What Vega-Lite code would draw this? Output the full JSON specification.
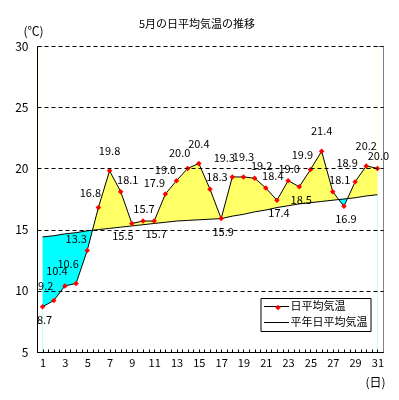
{
  "$schema": "https://vega.github.io/schema/vega-lite/v6.json",
  "autosize": "none",
  "width": 346,
  "height": 306,
  "padding": {"left": 37, "top": 46, "right": 16, "bottom": 48},
  "background": "white",
  "title": {"text": "5月の日平均気温の推移", "anchor": "middle", "frame": "group", "dx": -13, "dy": 7, "offset": 2, "font": "Noto Sans CJK JP", "fontSize": 11, "fontWeight": "normal", "color": "black"},
  "config": {
    "view": {"stroke": "#808080", "strokeWidth": 1},
    "font": "Noto Sans CJK JP",
    "text": {"font": "Noto Sans CJK JP", "fontSize": 11, "color": "black"},
    "axis": {"labelFont": "Noto Sans CJK JP", "titleFont": "Noto Sans CJK JP", "labelColor": "black", "titleColor": "black", "domainColor": "black", "tickColor": "black", "titleFontWeight": "normal"},
    "axisY": {"labelFontSize": 12, "labelPadding": 9, "tickSize": 0, "grid": true, "gridColor": "black", "gridDash": [4, 3], "gridWidth": 1, "titleFontSize": 12, "titleAngle": 0, "titleAlign": "center", "titleBaseline": "middle", "titleX": -4, "titleY": -15},
    "legend": {"labelFont": "Noto Sans CJK JP", "labelColor": "black"}
  },
  "data": {
    "values": [
      {"day": 1, "temp": 8.7, "normal": 14.4},
      {"day": 2, "temp": 9.2, "normal": 14.5},
      {"day": 3, "temp": 10.4, "normal": 14.65},
      {"day": 4, "temp": 10.6, "normal": 14.75},
      {"day": 5, "temp": 13.3, "normal": 14.9},
      {"day": 6, "temp": 16.8, "normal": 15.0},
      {"day": 7, "temp": 19.8, "normal": 15.1},
      {"day": 8, "temp": 18.1, "normal": 15.2},
      {"day": 9, "temp": 15.5, "normal": 15.3},
      {"day": 10, "temp": 15.7, "normal": 15.4},
      {"day": 11, "temp": 15.7, "normal": 15.5},
      {"day": 12, "temp": 17.9, "normal": 15.6},
      {"day": 13, "temp": 19.0, "normal": 15.7},
      {"day": 14, "temp": 20.0, "normal": 15.75},
      {"day": 15, "temp": 20.4, "normal": 15.8},
      {"day": 16, "temp": 18.3, "normal": 15.85},
      {"day": 17, "temp": 15.9, "normal": 15.9},
      {"day": 18, "temp": 19.3, "normal": 16.1},
      {"day": 19, "temp": 19.3, "normal": 16.25},
      {"day": 20, "temp": 19.2, "normal": 16.45},
      {"day": 21, "temp": 18.4, "normal": 16.6},
      {"day": 22, "temp": 17.4, "normal": 16.8},
      {"day": 23, "temp": 19.0, "normal": 16.95},
      {"day": 24, "temp": 18.5, "normal": 17.1},
      {"day": 25, "temp": 19.9, "normal": 17.2},
      {"day": 26, "temp": 21.4, "normal": 17.3},
      {"day": 27, "temp": 18.1, "normal": 17.4},
      {"day": 28, "temp": 16.9, "normal": 17.5},
      {"day": 29, "temp": 18.9, "normal": 17.6},
      {"day": 30, "temp": 20.2, "normal": 17.75},
      {"day": 31, "temp": 20.0, "normal": 17.85}
    ]
  },
  "encoding": {
    "x": {
      "field": "day",
      "type": "quantitative",
      "scale": {"domain": [0.5, 31.5], "nice": false, "zero": false},
      "axis": {
        "values": [1,1.5,2,2.5,3,3.5,4,4.5,5,5.5,6,6.5,7,7.5,8,8.5,9,9.5,10,10.5,11,11.5,12,12.5,13,13.5,14,14.5,15,15.5,16,16.5,17,17.5,18,18.5,19,19.5,20,20.5,21,21.5,22,22.5,23,23.5,24,24.5,25,25.5,26,26.5,27,27.5,28,28.5,29,29.5,30,30.5,31],
        "labelExpr": "datum.value % 2 == 1 ? datum.value : ''",
        "labelFontSize": 11,
        "labelPadding": 8,
        "labelFlush": false,
        "labelOverlap": false,
        "tickSize": -3,
        "grid": false,
        "title": "(日)",
        "titleFontSize": 12,
        "titleAnchor": "start",
        "titleAlign": "center",
        "titleBaseline": "middle",
        "titleX": 338,
        "titleY": 30,
        "zindex": 1,
        "encode": {"ticks": {"update": {"strokeOpacity": {"signal": "datum.value % 1 == 0.5 ? 1 : 0"}}}}
      }
    }
  },
  "layer": [
    {
      "mark": {"type": "area", "fill": "#FFFF66", "stroke": null},
      "encoding": {
        "y": {"field": "normal", "type": "quantitative", "scale": {"domain": [5, 30], "nice": false, "zero": false}, "axis": {"values": [5, 10, 15, 20, 25, 30], "title": "(℃)", "zindex": 1, "encode": {"grid": {"update": {"strokeOpacity": {"signal": "datum.value == 5 || datum.value == 30 ? 0 : 1"}}}}}},
        "y2": {"datum": 30, "type": "quantitative"}
      }
    },
    {
      "mark": {"type": "area", "fill": "white", "stroke": null},
      "encoding": {
        "y": {"field": "temp", "type": "quantitative", "axis": {"values": [5, 10, 15, 20, 25, 30], "title": "(℃)", "zindex": 1, "encode": {"grid": {"update": {"strokeOpacity": {"signal": "datum.value == 5 || datum.value == 30 ? 0 : 1"}}}}}},
        "y2": {"datum": 30, "type": "quantitative"}
      }
    },
    {
      "mark": {"type": "area", "fill": "#00FFFF", "stroke": null},
      "encoding": {
        "y": {"field": "normal", "type": "quantitative", "axis": {"values": [5, 10, 15, 20, 25, 30], "title": "(℃)", "zindex": 1, "encode": {"grid": {"update": {"strokeOpacity": {"signal": "datum.value == 5 || datum.value == 30 ? 0 : 1"}}}}}},
        "y2": {"datum": 5, "type": "quantitative"}
      }
    },
    {
      "mark": {"type": "area", "fill": "#FFFF66", "stroke": null, "blend": "lighten"},
      "encoding": {
        "y": {"field": "temp", "type": "quantitative", "axis": {"values": [5, 10, 15, 20, 25, 30], "title": "(℃)", "zindex": 1, "encode": {"grid": {"update": {"strokeOpacity": {"signal": "datum.value == 5 || datum.value == 30 ? 0 : 1"}}}}}},
        "y2": {"datum": 5, "type": "quantitative"}
      }
    },
    {
      "mark": {"type": "line", "strokeWidth": 1},
      "encoding": {
        "y": {"field": "normal", "type": "quantitative", "axis": {"values": [5, 10, 15, 20, 25, 30], "title": "(℃)", "zindex": 1, "encode": {"grid": {"update": {"strokeOpacity": {"signal": "datum.value == 5 || datum.value == 30 ? 0 : 1"}}}}}},
        "stroke": {"datum": "平年日平均気温", "type": "nominal", "scale": {"domain": ["日平均気温", "平年日平均気温"], "range": ["black", "black"]}, "legend": {"orient": "none", "legendX": 223.5, "legendY": 252, "title": null, "strokeColor": "black", "fillColor": "white", "padding": 3, "symbolType": "M-1,0H4", "symbolSize": 100, "symbolStrokeWidth": 1, "symbolStrokeColor": "black", "labelFontSize": 11, "labelOffset": 16, "rowPadding": 4, "zindex": 1}}
      }
    },
    {
      "mark": {"type": "line", "strokeWidth": 1},
      "encoding": {
        "y": {"field": "temp", "type": "quantitative", "axis": {"values": [5, 10, 15, 20, 25, 30], "title": "(℃)", "zindex": 1, "encode": {"grid": {"update": {"strokeOpacity": {"signal": "datum.value == 5 || datum.value == 30 ? 0 : 1"}}}}}},
        "stroke": {"datum": "日平均気温", "type": "nominal", "scale": {"domain": ["日平均気温", "平年日平均気温"], "range": ["black", "black"]}, "legend": {"orient": "none", "legendX": 223.5, "legendY": 252, "title": null, "strokeColor": "black", "fillColor": "white", "padding": 3, "symbolType": "M-1,0H4", "symbolSize": 100, "symbolStrokeWidth": 1, "symbolStrokeColor": "black", "labelFontSize": 11, "labelOffset": 16, "rowPadding": 4, "zindex": 1}}
      }
    },
    {
      "mark": {"type": "point", "shape": "diamond", "filled": true, "size": 30, "opacity": 1, "strokeWidth": 0},
      "encoding": {
        "y": {"field": "temp", "type": "quantitative", "axis": {"values": [5, 10, 15, 20, 25, 30], "title": "(℃)", "zindex": 1, "encode": {"grid": {"update": {"strokeOpacity": {"signal": "datum.value == 5 || datum.value == 30 ? 0 : 1"}}}}}},
        "fill": {"datum": "日平均気温", "type": "nominal", "scale": {"domain": ["日平均気温"], "range": ["red"]}, "legend": {"orient": "none", "legendX": 238, "legendY": 258.5, "title": null, "padding": 0, "symbolType": "diamond", "symbolSize": 30, "symbolFillColor": "red", "symbolStrokeWidth": 0, "labelExpr": "''", "labelFontSize": 1, "zindex": 2}}
      }
    },
    {
      "layer": [
        {"transform": [{"filter": {"field": "day", "oneOf": [2, 3, 6, 14, 25]}}], "mark": {"type": "text", "dx": -8, "dy": -14, "baseline": "middle"}},
        {"transform": [{"filter": {"field": "day", "oneOf": [4, 18, 29]}}], "mark": {"type": "text", "dx": -8, "dy": -18, "baseline": "middle"}},
        {"transform": [{"filter": {"field": "day", "oneOf": [5, 12, 13]}}], "mark": {"type": "text", "dx": -11, "dy": -10, "baseline": "middle"}},
        {"transform": [{"filter": {"field": "day", "oneOf": [7, 15, 19, 26, 30]}}], "mark": {"type": "text", "dx": 0, "dy": -19, "baseline": "middle"}},
        {"transform": [{"filter": {"field": "day", "oneOf": [10, 23, 31]}}], "mark": {"type": "text", "dx": 1, "dy": -11, "baseline": "middle"}},
        {"transform": [{"filter": {"field": "day", "oneOf": [8, 16, 20, 21, 27]}}], "mark": {"type": "text", "dx": 7, "dy": -11, "baseline": "middle"}},
        {"transform": [{"filter": {"field": "day", "oneOf": [1, 11, 17, 22, 24, 28]}}], "mark": {"type": "text", "dx": 2, "dy": 14, "baseline": "middle"}},
        {"transform": [{"filter": {"field": "day", "oneOf": [9]}}], "mark": {"type": "text", "dx": -9, "dy": 14, "baseline": "middle"}}
      ],
      "encoding": {
        "y": {"field": "temp", "type": "quantitative", "axis": {"values": [5, 10, 15, 20, 25, 30], "title": "(℃)", "zindex": 1, "encode": {"grid": {"update": {"strokeOpacity": {"signal": "datum.value == 5 || datum.value == 30 ? 0 : 1"}}}}}},
        "text": {"field": "temp", "format": ".1f"}
      }
    }
  ]
}
